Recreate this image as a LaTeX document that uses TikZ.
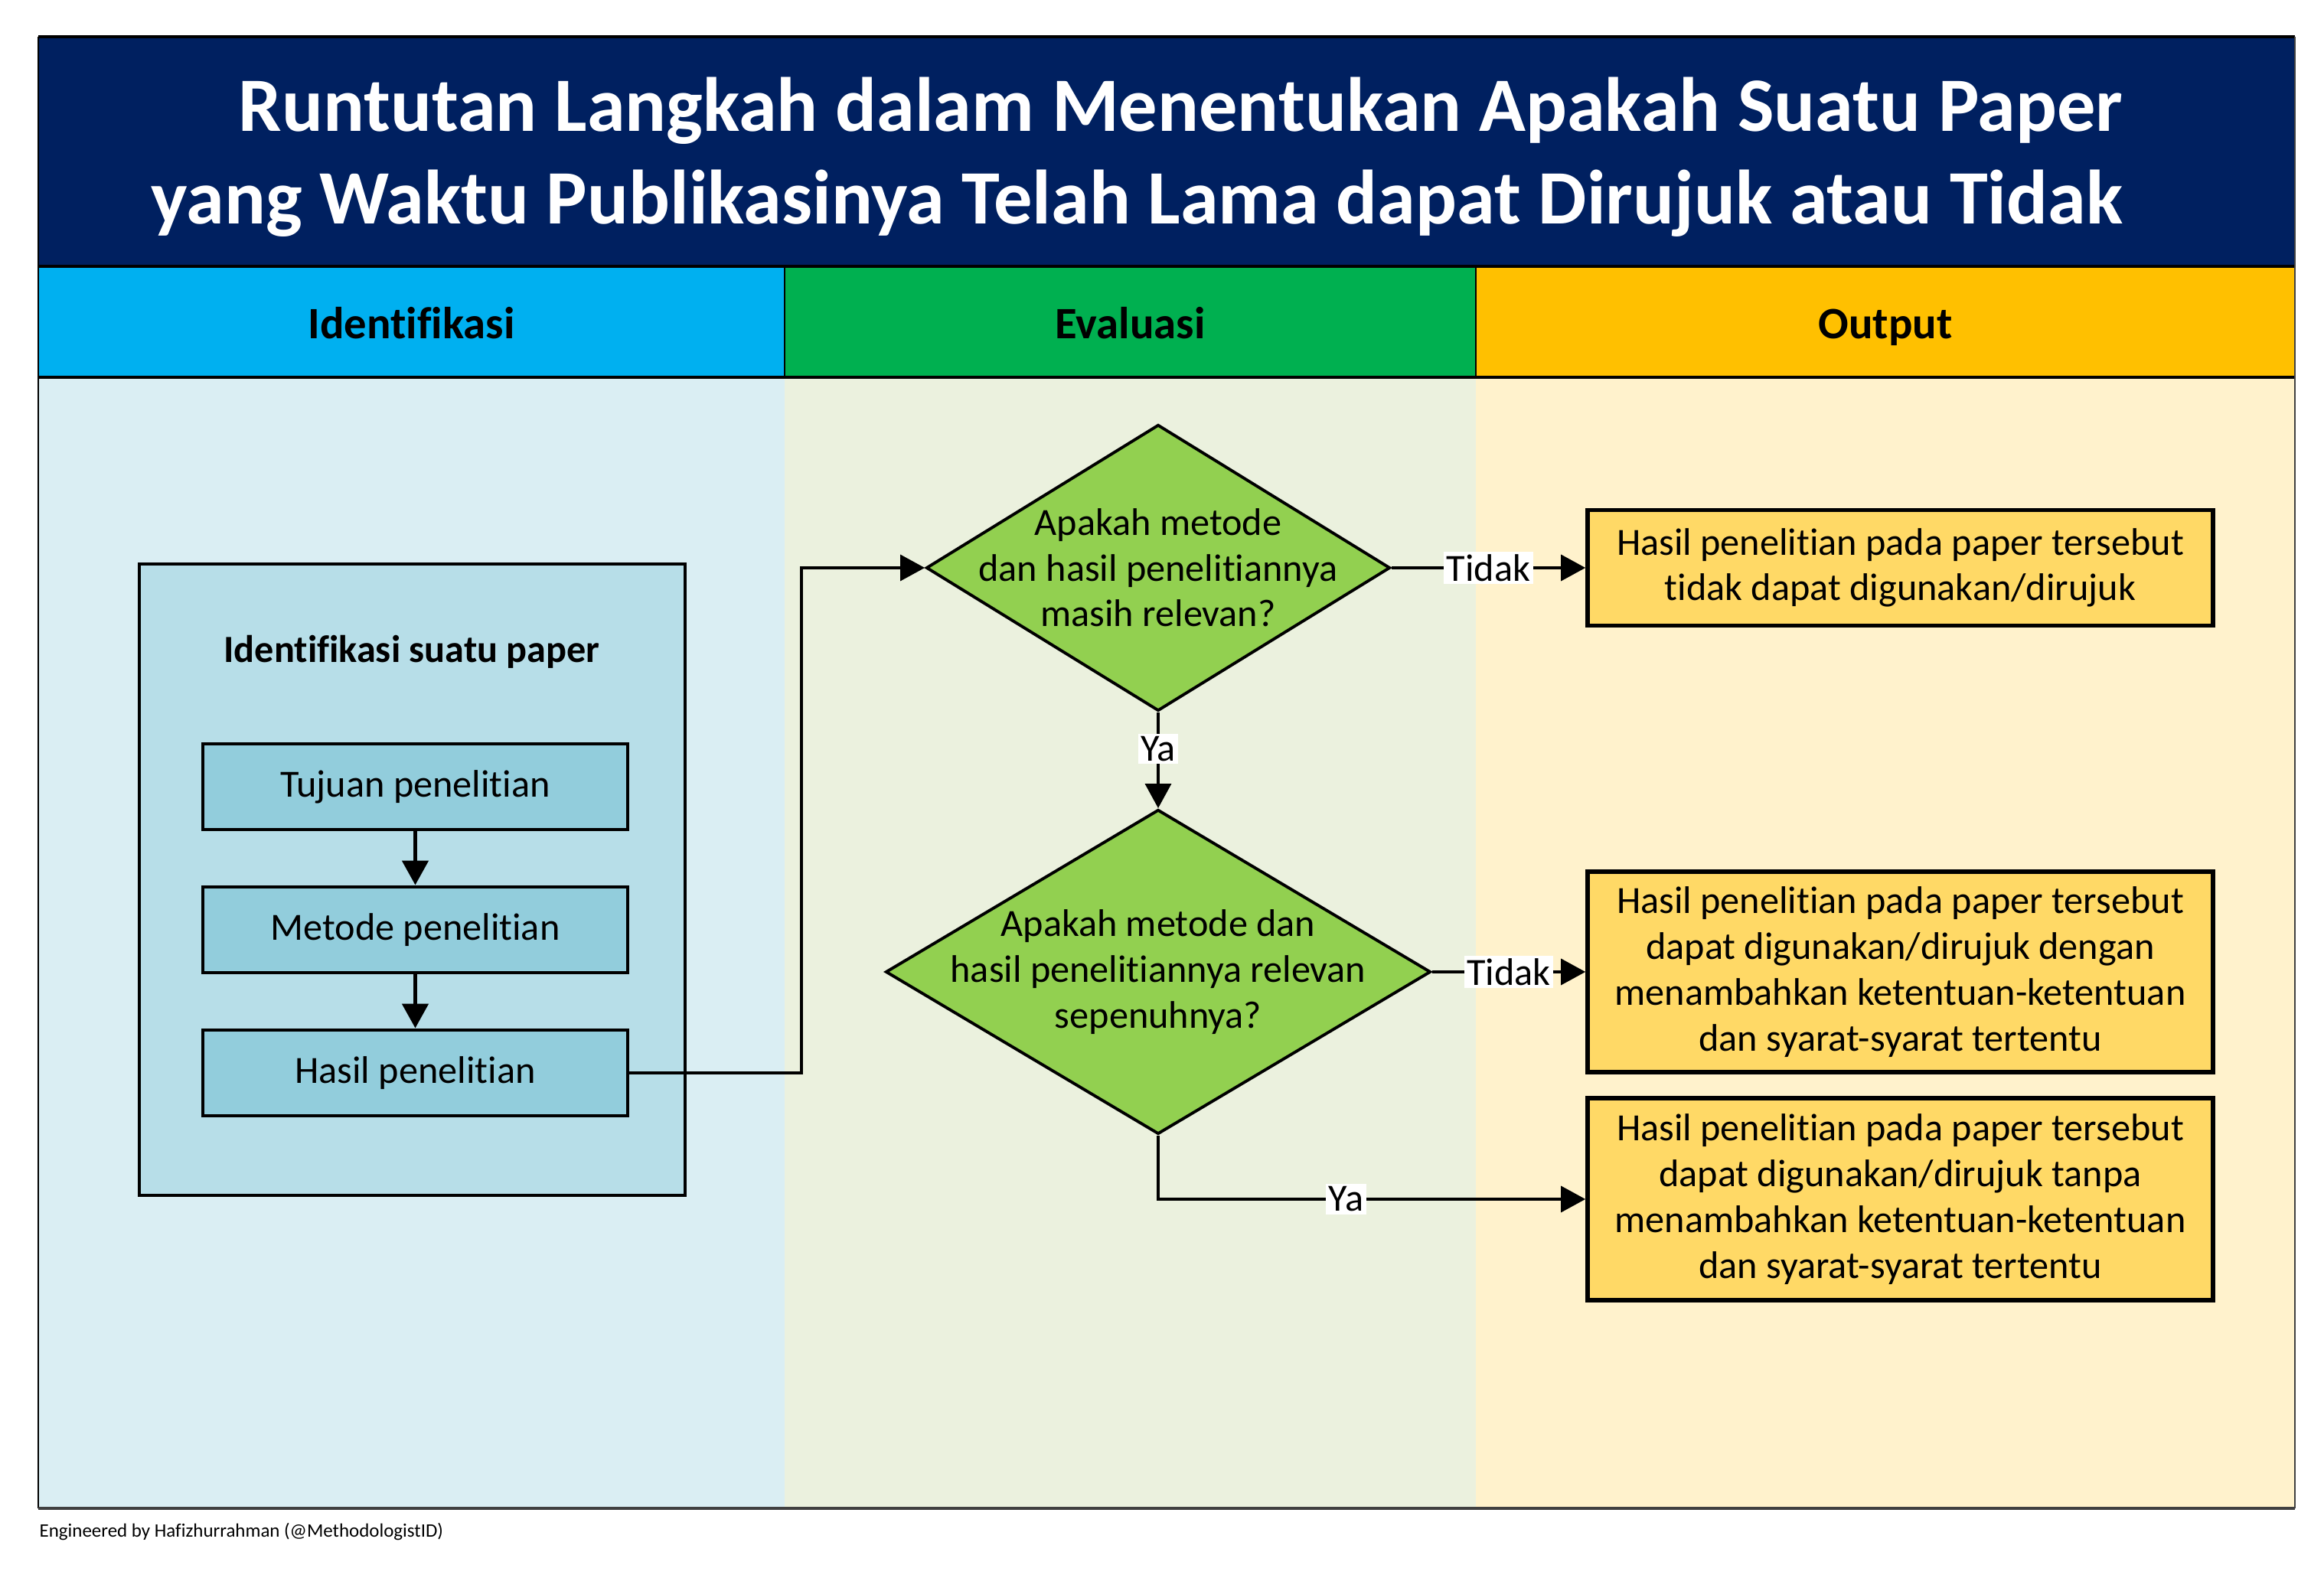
\documentclass[tikz,border=0pt]{standalone}
\usepackage{fontspec}
\setmainfont{Carlito}[Ligatures=NoCommon]
\usetikzlibrary{arrows.meta,shapes.geometric}

\definecolor{navy}{HTML}{002060}
\definecolor{hdrblue}{HTML}{00B0F0}
\definecolor{hdrgreen}{HTML}{00B050}
\definecolor{hdrgold}{HTML}{FFC000}
\definecolor{bgblue}{HTML}{DAEEF3}
\definecolor{bggreen}{HTML}{EBF1DE}
\definecolor{bggold}{HTML}{FFF2CC}
\definecolor{groupblue}{HTML}{B7DEE8}
\definecolor{stepblue}{HTML}{92CDDC}
\definecolor{qgreen}{HTML}{92D050}
\definecolor{outgold}{HTML}{FFD966}

\tikzset{
  txt/.style={font=\fontsize{14.3}{17}\selectfont},
  hdr/.style={font=\fontsize{16.7}{20}\selectfont\bfseries, anchor=base},
  stepbox/.style={txt, draw, line width=1.4pt, fill=stepblue, minimum width=5.55cm, minimum height=1.12cm},
  decision/.style={diamond, draw, line width=1.1pt, fill=qgreen, inner sep=0pt},
  qtext/.style={txt, align=center},
  outbox/.style={txt, draw, line width=1.6pt, fill=outgold, minimum width=8.17cm, align=center},
  arr/.style={line width=1pt, -{Triangle[length=3.2mm,width=3.4mm]}},
  lbl/.style={txt, fill=white, inner sep=1pt},
}

\begin{document}
\begin{tikzpicture}
			%%%%% START %%%%%
			\useasboundingbox (0,0) rectangle (30.36,20.79);
			
			% title band and lane headers
			\fill[navy] (0.5,17.31) rectangle (29.98,20.31);
			\fill[hdrblue] (0.5,15.86) rectangle (10.25,17.31);
			\fill[hdrgreen] (10.25,15.86) rectangle (19.28,17.31);
			\fill[hdrgold] (19.28,15.86) rectangle (29.98,17.31);
			
			% lanes
			\fill[bgblue] (0.5,1.08) rectangle (10.25,15.86);
			\fill[bggreen] (10.25,1.08) rectangle (19.28,15.86);
			\fill[bggold] (19.28,1.08) rectangle (29.98,15.86);
			
			\draw[line width=1.2pt] (0.5,20.31) -- (29.98,20.31);
			\draw[line width=1.2pt] (0.5,17.31) -- (29.98,17.31);
			\draw[line width=1.2pt] (0.5,15.86) -- (29.98,15.86);
			\draw[line width=0.4pt] (10.25,15.86) -- (10.25,17.31);
			\draw[line width=0.4pt] (19.28,15.86) -- (19.28,17.31);
			\draw[line width=0.8pt] (0.5,20.31) -- (0.5,1.08);
			\draw[line width=0.5pt, color=black!75] (29.98,20.31) -- (29.98,1.08);
			\draw[line width=1pt, color=black!75] (0.5,1.08) -- (29.98,1.08);
			
			\node[white, font=\fontsize{28.6}{34.5}\selectfont\bfseries, align=right, anchor=east] (title) at (27.85,18.74)
				{Runtutan Langkah dalam Menentukan Apakah Suatu Paper\\yang Waktu Publikasinya Telah Lama dapat Dirujuk atau Tidak};
			
			\node[hdr] (hident) at (5.375,16.36) {Identifikasi};
			\node[hdr] (heval) at (14.765,16.36) {Evaluasi};
			\node[hdr] (hout) at (24.63,16.36) {Output};
			
			% identifikasi
			\node[draw, line width=1.2pt, fill=groupblue, minimum width=7.13cm, minimum height=8.25cm] (group) at (5.385,9.295) {};
			\node[font=\fontsize{14.3}{17}\selectfont\bfseries] (grouptitle) at (5.38,12.27) {Identifikasi suatu paper};
			\node[stepbox] (tujuan) at (5.425,10.51) {Tujuan penelitian};
			\node[stepbox] (metode) at (5.425,8.64) {Metode penelitian};
			\node[stepbox] (hasil) at (5.425,6.77) {Hasil penelitian};
			
			% evaluasi
			\node[decision, minimum width=6.06cm, minimum height=3.74cm,
				label={[qtext]center:Apakah metode\\dan hasil penelitiannya\\masih relevan?}] (q1) at (15.13,13.37) {};
			\node[decision, minimum width=7.12cm, minimum height=4.24cm,
				label={[qtext]center:Apakah metode dan\\hasil penelitiannya relevan\\sepenuhnya?}] (q2) at (15.13,8.09) {};
			
			% output
			\node[outbox, minimum height=1.51cm] (outA) at (24.825,13.37)
				{Hasil penelitian pada paper tersebut\\tidak dapat digunakan/dirujuk};
			\node[outbox, minimum height=2.62cm] (outB) at (24.825,8.09)
				{Hasil penelitian pada paper tersebut\\dapat digunakan/dirujuk dengan\\menambahkan ketentuan-ketentuan\\dan syarat-syarat tertentu};
			\node[outbox, minimum height=2.64cm] (outC) at (24.825,5.12)
				{Hasil penelitian pada paper tersebut\\dapat digunakan/dirujuk tanpa\\menambahkan ketentuan-ketentuan\\dan syarat-syarat tertentu};
			
			% connectors
			\coordinate (elbow) at (10.47,13.37);
			\draw[arr, line width=1.4pt] (tujuan) -- (metode);
			\draw[arr, line width=1.4pt] (metode) -- (hasil);
			\draw[arr] (hasil.east) -| (elbow) -- (q1.west);
			\draw[arr] (q1.east) -- node[lbl] {Tidak} (outA.west);
			\draw[arr] (q1.south) -- node[lbl, pos=0.38] {Ya} (q2.north);
			\draw[arr] (q2.east) -- node[lbl] {Tidak} (outB.west);
			\draw[arr] (q2.south) |- node[lbl, pos=0.72] {Ya} (outC.west);
			
			\node[anchor=west, font=\fontsize{7.1}{8.5}\selectfont, inner sep=0pt] (footer) at (0.51,0.77)
				{Engineered by Hafizhurrahman (@MethodologistID)};
			
			%%%%% END %%%%%
\end{tikzpicture}
\end{document}
